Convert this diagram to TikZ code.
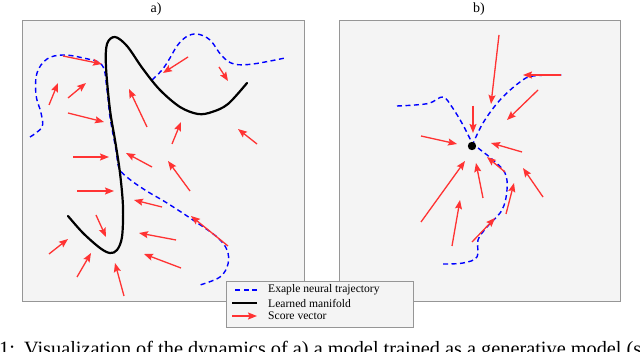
\documentclass[tikz,border=0pt]{standalone}
\usepackage{fontspec}
\setmainfont{Liberation Serif}
\usepackage{tikz}
\usetikzlibrary{arrows.meta, positioning}
\definecolor{scorered}{RGB}{255,51,51}
\definecolor{panelfill}{RGB}{244,244,244}
\definecolor{panelline}{RGB}{150,150,150}

\begin{document}
\begin{tikzpicture}[x=1pt, y=-1pt,
  panel/.style={draw=panelline, fill=panelfill, line width=0.9pt},
  manifold/.style={line width=2.2pt, line cap=round},
  traj/.style={draw=blue, dash pattern=on 5pt off 3.5pt, line width=1.4pt},
  score/.style={-{Stealth[length=9pt, width=7pt, inset=1.5pt]}, draw=scorered, fill=scorered, line width=1.3pt},
  title/.style={font=\fontsize{14}{16}\selectfont, inner sep=0pt},
  legtext/.style={font=\fontsize{11.6}{13}\selectfont, anchor=west, inner sep=0pt}
]
\useasboundingbox (0,0) rectangle (640,352);
\clip (0,0) rectangle (640,352);

% panels and titles
\draw[panel] (22,20) rectangle (304,301);
\draw[panel] (339,20) rectangle (620,301);
\node[title] (ta) at (156,9) {a)};
\node[title] (tb) at (479,9) {b)};

% a) trajectories
\draw[traj] plot[smooth, tension=0.6] coordinates {(30,137) (42,127) (41,113) (36,95) (37,73) (47,59) (63,55) (83,58) (102,65)
  (107,90) (110,117) (116,150) (119,168) (128,178) (145,190) (167,203) (193,220) (217,237) (227,250) (228,264) (220,277) (200,285)};
\draw[traj] plot[smooth, tension=0.6] coordinates {(152,80) (162,70) (170,58) (177,46) (186,37) (197,34) (210,40) (222,56) (234,64) (253,64) (285,58)};

% a) learned manifold
\draw[manifold] plot[smooth, tension=0.55] coordinates {(68,216) (83,233) (100,248) (110,253) (117,250) (122,237) (123,207) (120,173)
  (115,140) (110,110) (106,67) (107,44) (115,37) (127,46) (143,69) (160,90) (180,107) (198,114) (212,112) (228,104) (247,83)};

% a) score vectors
\foreach \x/\y/\u/\v in {63/56/102/64, 49/105/58/83, 68/98/86/83, 68/113/104/122, 147/127/129/89,
    188/57/163/73, 219/67/228/81, 172/144/181/122, 257/144/238/129, 73/157/109/157, 152/167/126/153,
    190/191/168/161, 77/191/114/191, 162/207/134/200, 96/215/106/237, 228/246/191/216, 176/240/139/233,
    49/254/68/239, 181/268/144/254, 77/277/91/253, 124/296/115/263}
  \draw[score] (\x,\y) -- (\u,\v);

% b) trajectories
\draw[traj] plot[smooth, tension=0.6] coordinates {(397,106) (415,105) (430,103) (443,97) (452,107) (463,125) (472,143)};
\draw[traj] plot[smooth, tension=0.6] coordinates {(472,146) (483,123) (500,100) (520,82) (533,76) (562,75)};
\draw[traj] plot[smooth, tension=0.6] coordinates {(478,148) (493,160) (505,173) (507,190) (502,210) (487,227) (478,240) (477,257) (463,263) (443,264)};

% b) score vectors
\foreach \x/\y/\u/\v in {499/35/491/104, 561/75/523/75, 538/90/507/120, 473/106/473/133, 421/136/457/144,
    522/152/491/143, 421/222/465/161, 483/198/476/163, 505/172/487/157, 543/197/523/168,
    506/214/514/183, 452/246/460/200, 472/242/495/218}
  \draw[score] (\x,\y) -- (\u,\v);

% b) fixed point
\fill (472,146) circle (4.2);

% legend
\node[draw=panelline, fill=panelfill, line width=0.9pt, minimum width=187pt, minimum height=46pt, inner sep=0pt] (legend) at (319.5,304) {};
\node[legtext] (l1) at (268,290) {Exaple neural trajectory};
\node[legtext] (l2) at (268,303) {Learned manifold};
\node[legtext] (l3) at (268,316) {Score vector};
\coordinate[left=11pt of l1.west] (e1);
\coordinate[left=11pt of l2.west] (e2);
\coordinate[left=11pt of l3.west] (e3);
\draw[traj] (e1) -- ++(-25,0);
\draw[manifold, line cap=butt, line width=1.8pt] (e2) -- ++(-25,0);
\draw[score] (e3) ++(-25,0) -- (e3);

% caption (cut by the page, as in the figure)
\node[anchor=base west, inner sep=0pt, font=\fontsize{20.3}{24}\selectfont] (caption) at (-1,355.5)
  {1:\hspace{0.45em}Visualization of the dynamics of a) a model trained as a generative model (s};
\end{tikzpicture}
\end{document}
